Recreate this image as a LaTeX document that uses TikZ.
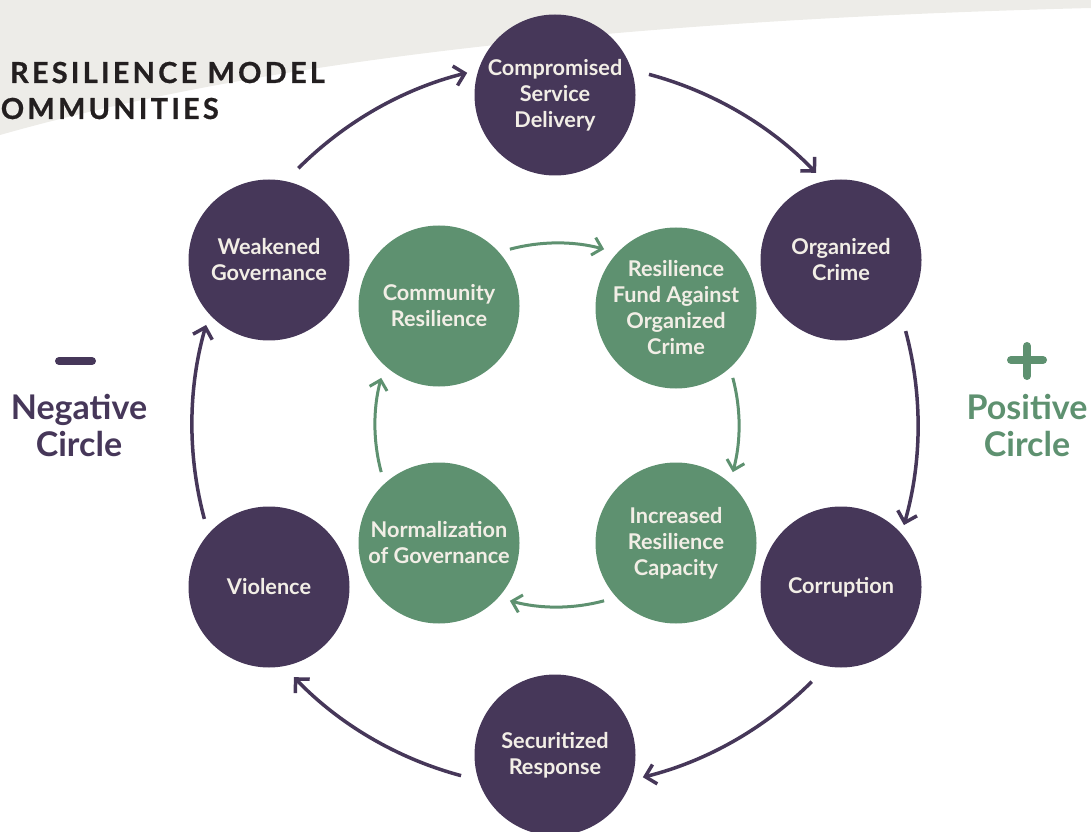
\documentclass[tikz,border=0pt]{standalone}
\usepackage{fontspec}
\setmainfont{Lato}
\newfontfamily\headfont[LetterSpace=11,FakeBold=0.6]{Lato}
\usetikzlibrary{arrows.meta}
\definecolor{negpurple}{HTML}{463759}
\definecolor{posgreen}{HTML}{5E9170}
\definecolor{nodetext}{HTML}{F2EEE6}
\definecolor{bggrey}{HTML}{EDECE8}
\definecolor{headtext}{HTML}{231F20}
\tikzset{
  negnode/.style={circle, fill=negpurple, minimum size=161pt, inner sep=0pt,
    text=nodetext, align=center, font=\bfseries\fontsize{21.7}{26}\selectfont},
  posnode/.style={negnode, fill=posgreen},
  negarr/.style={draw=negpurple, line width=3.5pt, -{Straight Barb[length=10pt,width=20pt]}},
  posarr/.style={draw=posgreen, line width=3pt, -{Straight Barb[length=9pt,width=18pt]}},
  headline/.style={inner sep=0pt, text=headtext, font=\headfont\bfseries\fontsize{29}{36}\selectfont},
  sidelabel/.style={align=center, font=\bfseries\fontsize{34}{37}\selectfont}
}
\begin{document}
\begin{tikzpicture}[x=1pt,y=1pt]
  \useasboundingbox (0,0) rectangle (1091,831);
  \clip (0,0) rectangle (1091,831);
  % grey band at the top
  \fill[bggrey] (0,831) -- (0,696) .. controls (240,764) and (580,810) .. (1091,823) -- (1091,831) -- cycle;
  \node[headline, anchor=base east] (ttl) at (325,748) {RESILIENCE MODEL};
  \node[headline, anchor=base east] (ttl2) at (219,712) {COMMUNITIES};

  \coordinate (ring) at (555,406);
  \coordinate (inner) at (557,406);

  % negative circle
  \node[negnode] (csd) at (555,736) {Compromised\\Service\\Delivery};
  \node[negnode] (oc) at (841,571) {Organized\\Crime};
  \node[negnode] (cor) at (841,244) {Corruption};
  \node[negnode] (sr) at (555,76) {Securitized\\Response};
  \node[negnode] (vio) at (269,244) {Violence};
  \node[negnode] (wg) at (269,571) {Weakened\\Governance};

  \draw[negarr] (ring) ++(135:363) arc[start angle=135, end angle=104, radius=363]; % wg -> csd
  \draw[negarr] (ring) ++(75:363) arc[start angle=75, end angle=44, radius=363]; % csd -> oc
  \draw[negarr] (ring) ++(15:363) arc[start angle=15, end angle=-16, radius=363]; % oc -> cor
  \draw[negarr] (ring) ++(-45:363) arc[start angle=-45, end angle=-76, radius=363]; % cor -> sr
  \draw[negarr] (ring) ++(-105:363) arc[start angle=-105, end angle=-136, radius=363]; % sr -> vio
  \draw[negarr] (ring) ++(195:363) arc[start angle=195, end angle=164, radius=363]; % vio -> wg

  % positive circle
  \node[posnode] (cr) at (439,525) {Community\\Resilience};
  \node[posnode] (rf) at (676,523) {Resilience\\Fund Against\\Organized\\Crime};
  \node[posnode] (irc) at (676,288) {Increased\\Resilience\\Capacity};
  \node[posnode] (ng) at (439,288) {Normalization\\of Governance};

  \draw[posarr] (inner) ++(105:182) arc[start angle=105, end angle=75, radius=182]; % cr -> rf
  \draw[posarr] (inner) ++(15:182) arc[start angle=15, end angle=-15, radius=182]; % rf -> irc
  \draw[posarr] (inner) ++(-75:182) arc[start angle=-75, end angle=-105, radius=182]; % irc -> ng
  \draw[posarr] (inner) ++(195:182) arc[start angle=195, end angle=165, radius=182]; % ng -> cr

  % side labels
  \node[sidelabel, text=negpurple] (neg) at (79,406) {Negative\\Circle};
  \node[sidelabel, text=posgreen] (pos) at (1027,406) {Positive\\Circle};
  \draw[negpurple, line width=8pt, line cap=round] (59,470) -- (92,470);
  \draw[posgreen, line width=8pt, line cap=round] (1011,471) -- (1043,471);
  \draw[posgreen, line width=8pt, line cap=round] (1027,455) -- (1027,485);
\end{tikzpicture}
\end{document}
